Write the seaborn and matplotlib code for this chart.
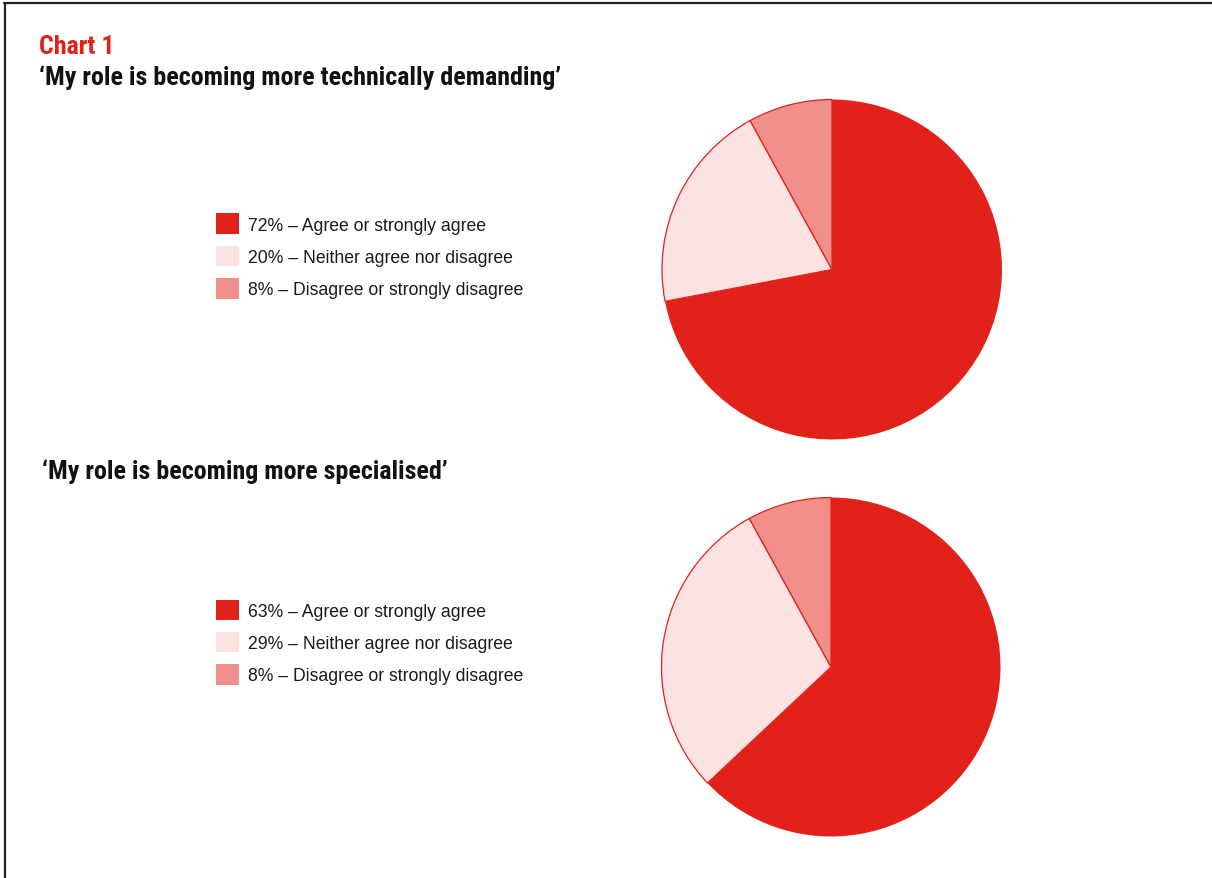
import matplotlib
matplotlib.use("Agg")
import matplotlib.pyplot as plt
import matplotlib.patches as mpatches
from matplotlib.lines import Line2D
from matplotlib import font_manager
import seaborn as sns

# Survey responses
categories = ["Agree or strongly agree", "Neither agree nor disagree", "Disagree or strongly disagree"]
demanding = [72, 20, 8]
specialised = [63, 29, 8]
questions = ["\u2018My role is becoming more technically demanding\u2019",
             "\u2018My role is becoming more specialised\u2019"]
chart_label = "Chart 1"

colors = ["#E3211B", "#FCE2E1", "#F1908A"]
RED = "#E3211B"

sns.set_theme(style="white")
plt.rcParams["font.family"] = ["Liberation Sans", "DejaVu Sans"]

W, H = 1212, 879
fig = plt.figure(figsize=(W / 100, H / 100), dpi=100)
fig.patch.set_facecolor("white")


def fx(px):
    return px / W


def fy(py):
    return 1 - py / H


# Frame lines along top and left edge
fig.add_artist(Line2D([fx(4), 1], [fy(3.5), fy(3.5)], color="#222222", lw=1.6, transform=fig.transFigure))
fig.add_artist(Line2D([fx(4.5), fx(4.5)], [fy(3.5), 0], color="#222222", lw=1.6, transform=fig.transFigure))

# Prefer a condensed face for the headings when one is available
installed = {f.name for f in font_manager.fontManager.ttflist}
condensed = [n for n in ["Roboto Condensed", "Liberation Sans Narrow", "Open Sans Condensed",
                         "Noto Sans Condensed", "Open Sans SemiCondensed", "Noto Sans SemiCondensed"]
             if n in installed]
if condensed:
    title_font = [condensed[0], "DejaVu Sans"]
    title_size = 18.7
else:
    title_font = ["Roboto", "DejaVu Sans"]
    title_size = 15

fig.text(fx(39), fy(47), chart_label, color=RED, fontsize=title_size, fontweight="bold",
         family=title_font, va="center", ha="left")
fig.text(fx(39), fy(77.5), questions[0], color="#111111", fontsize=title_size, fontweight="bold",
         family=title_font, va="center", ha="left")
fig.text(fx(42), fy(471.5), questions[1], color="#111111", fontsize=title_size, fontweight="bold",
         family=title_font, va="center", ha="left")


def draw_pie(values, cx, cy, r, legend_top):
    ax = fig.add_axes([fx(cx - r), fy(cy + r), (2 * r) / W, (2 * r) / H])
    wedges, _ = ax.pie(values, colors=colors, startangle=90, counterclock=False,
                       radius=1, wedgeprops=dict(edgecolor=RED, linewidth=0.9))
    wedges[0].set_linewidth(0)
    ax.set_xlim(-1.003, 1.003)
    ax.set_ylim(-1.003, 1.003)
    ax.set_aspect("equal")
    ax.axis("off")

    handles = [mpatches.Patch(facecolor=c, edgecolor="none") for c in colors]
    labels = [f"{v}% \u2013 {cat}" for v, cat in zip(values, categories)]
    fig.legend(handles, labels, loc="upper left", bbox_to_anchor=(fx(216), fy(legend_top)),
               frameon=False, fontsize=12.7, handlelength=1.31, handleheight=1.43,
               labelspacing=0.65, handletextpad=0.5, borderpad=0, borderaxespad=0,
               labelcolor="#1a1a1a")


draw_pie(demanding, 832, 270.5, 170.5, 214.5)
draw_pie(specialised, 831, 668, 170, 600.5)

fig.savefig("out.png", dpi=100, facecolor="white")
